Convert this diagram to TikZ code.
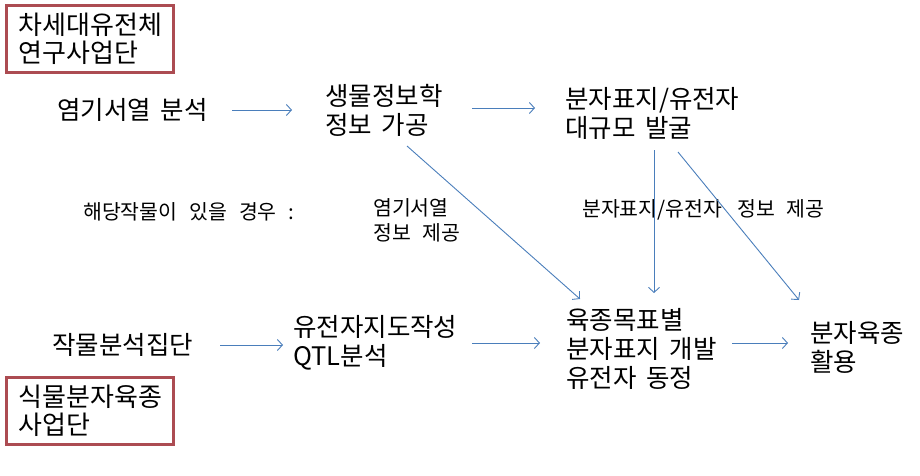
\documentclass[tikz,border=0pt]{standalone}
\usepackage{fontspec}
\setmainfont{Noto Sans CJK KR}[WordSpace=1.7]
\newfontfamily\notefont{Noto Sans CJK KR}[WordSpace=2.6]
\usetikzlibrary{arrows.meta,positioning}
\definecolor{boxred}{RGB}{172,76,82}
\definecolor{flowblue}{RGB}{74,126,187}
\tikzstyle{bigtxt}=[inner sep=0pt,anchor=west,align=left,font=\fontsize{25.5}{29}\selectfont]
\tikzstyle{smalltxt}=[inner sep=0pt,anchor=west,align=left,font=\notefont\fontsize{20.5}{25}\selectfont]
\tikzstyle{orgbox}=[draw=boxred,line width=3pt,anchor=north west,minimum width=167pt,
minimum height=67pt,text width=143pt,inner xsep=12pt,align=left,font=\fontsize{26}{28}\selectfont]
\tikzstyle{flow}=[draw=flowblue,line width=0.9pt,-{Straight Barb[length=5pt,width=11pt]}]

\begin{document}
\begin{tikzpicture}[x=1pt,y=-1pt]
            \useasboundingbox (0,0) rectangle (920,476);

            % project boxes
            \node[orgbox] (gen) at (5,4) {차세대유전체\\연구사업단};
            \node[orgbox] (brd) at (5,376) {식물분자육종\\사업단};

            % upper row
            \node[bigtxt] (seq) at (57,110) {염기서열 분석};
            \node[bigtxt] (bio) at (325,110) {생물정보학\\정보 가공};
            \node[bigtxt] (mk) at (565,113) {분자표지/유전자\\대규모 발굴};

            % lower row
            \node[bigtxt] (crop) at (52,345) {작물분석집단};
            \node[bigtxt] (map) at (293,343) {유전자지도작성\\QTL분석};
            \node[bigtxt] (goal) at (566,349) {육종목표별\\분자표지 개발\\유전자 동정};
            \node[bigtxt] (use) at (810,347) {분자육종\\활용};

            % notes
            \node[smalltxt] (note) at (83,212) {해당작물이 있을 경우 :};
            \node[smalltxt] (seqinfo) at (373,220) {염기서열\\정보 제공};
            \node[smalltxt] (mkinfo) at (582,210) {분자표지/유전자\hspace{3pt} 정보 제공};

            \draw[flow] ([xshift=175pt]seq.west) -- ([xshift=-33pt]bio.west);
            \draw[flow] ([xshift=147pt,yshift=2pt]bio.west) -- ([xshift=-30pt,yshift=5pt]mk.west);
            \draw[flow] ([xshift=82pt,yshift=-36pt]bio.west) -- ([xshift=14pt,yshift=50pt]goal.west);
            \draw[flow] ([xshift=89pt,yshift=-37pt]mk.west) -- ([xshift=88pt,yshift=56pt]goal.west);
            \draw[flow] ([xshift=113pt,yshift=-39pt]mk.west) -- ([xshift=-11pt,yshift=47pt]use.west);

            \draw[flow] ([xshift=168pt]crop.west) -- ([xshift=-10pt,yshift=-2pt]map.west);
            \draw[flow] ([xshift=179pt]map.west) -- ([xshift=-26pt,yshift=6pt]goal.west);
            \draw[flow] ([xshift=166pt,yshift=6pt]goal.west) -- ([xshift=-22pt,yshift=4pt]use.west);
\end{tikzpicture}
\end{document}
